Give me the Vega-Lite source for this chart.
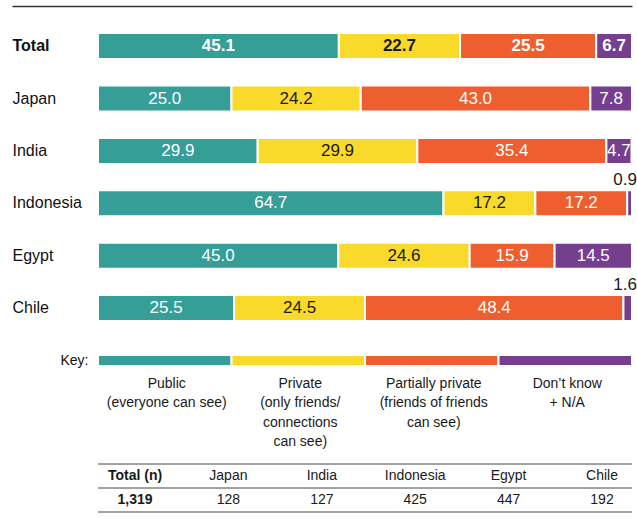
{
  "$schema": "https://vega.github.io/schema/vega-lite/v6.json",
  "width": 620,
  "height": 517,
  "autosize": "none",
  "padding": {"left": 12, "top": 6, "right": 5, "bottom": 0},
  "background": "white",
  "config": {"view": {"stroke": null}, "font": "Liberation Sans"},
  "resolve": {"scale": {"x": "independent", "y": "independent"}},
  "layer": [
    {
      "data": {
        "values": [
          {"row": "Total", "cat": "Public", "value": 45.1},
          {"row": "Total", "cat": "Private", "value": 22.7},
          {"row": "Total", "cat": "Partial", "value": 25.5},
          {"row": "Total", "cat": "DK", "value": 6.7},
          {"row": "Japan", "cat": "Public", "value": 25.0},
          {"row": "Japan", "cat": "Private", "value": 24.2},
          {"row": "Japan", "cat": "Partial", "value": 43.0},
          {"row": "Japan", "cat": "DK", "value": 7.8},
          {"row": "India", "cat": "Public", "value": 29.9},
          {"row": "India", "cat": "Private", "value": 29.9},
          {"row": "India", "cat": "Partial", "value": 35.4},
          {"row": "India", "cat": "DK", "value": 4.7},
          {"row": "Indonesia", "cat": "Public", "value": 64.7},
          {"row": "Indonesia", "cat": "Private", "value": 17.2},
          {"row": "Indonesia", "cat": "Partial", "value": 17.2},
          {"row": "Indonesia", "cat": "DK", "value": 0.9},
          {"row": "Egypt", "cat": "Public", "value": 45.0},
          {"row": "Egypt", "cat": "Private", "value": 24.6},
          {"row": "Egypt", "cat": "Partial", "value": 15.9},
          {"row": "Egypt", "cat": "DK", "value": 14.5},
          {"row": "Chile", "cat": "Public", "value": 25.5},
          {"row": "Chile", "cat": "Private", "value": 24.5},
          {"row": "Chile", "cat": "Partial", "value": 48.4},
          {"row": "Chile", "cat": "DK", "value": 1.6},
          {"row": "Key", "cat": "Public", "value": 25, "desc": ["Public", "(everyone can see)"]},
          {"row": "Key", "cat": "Private", "value": 25, "desc": ["Private", "(only friends/", "connections", "can see)"]},
          {"row": "Key", "cat": "Partial", "value": 25, "desc": ["Partially private", "(friends of friends", "can see)"]},
          {"row": "Key", "cat": "DK", "value": 25, "desc": ["Don’t know", "+ N/A"]}
        ]
      },
      "encoding": {
        "y": {
          "field": "row",
          "type": "nominal",
          "scale": {
            "domain": ["Total", "Japan", "India", "Indonesia", "Egypt", "Chile", "Key"],
            "range": [13.9, 380.7],
            "paddingInner": 0,
            "paddingOuter": 0
          },
          "axis": {
            "title": null,
            "domain": false,
            "ticks": false,
            "tickSize": 0,
            "grid": false,
            "labelAlign": {"condition": {"test": "datum.value === 'Key'", "value": "right"}, "value": "left"},
            "labelBaseline": "middle",
            "labelFont": "Liberation Sans",
            "labelFontSize": {"condition": {"test": "datum.value === 'Key'", "value": 14}, "value": 16},
            "labelFontWeight": {"condition": {"test": "datum.value === 'Total'", "value": "bold"}, "value": "normal"},
            "labelPadding": {"condition": {"test": "datum.value === 'Key'", "value": -76}, "value": 0},
            "labelColor": "#111111",
            "labelLimit": 200,
            "labelExpr": "datum.value === 'Key' ? 'Key:' : datum.value"
          }
        },
        "order": {"field": "cat", "sort": "descending"}
      },
      "layer": [
        {
          "transform": [{"filter": "datum.row !== 'Key'"}],
          "mark": {"type": "bar", "height": 26, "stroke": "white", "strokeWidth": 2},
          "encoding": {
            "x": {
              "field": "value",
              "type": "quantitative",
              "stack": "zero",
              "scale": {"domain": [-16.105, 100], "nice": false, "zero": false},
              "axis": {"orient": "top", "domain": true, "domainColor": "#333333", "domainWidth": 1.5, "ticks": false, "labels": false, "grid": false, "title": null}
            },
            "color": {
              "field": "cat",
              "type": "nominal",
              "scale": {"domain": ["Public", "Private", "Partial", "DK"], "range": ["#359E97", "#F9DA2B", "#EE5E2F", "#763E8F"]},
              "legend": null
            }
          }
        },
        {
          "transform": [{"filter": "datum.row === 'Key'"}],
          "mark": {"type": "bar", "height": 11, "stroke": "white", "strokeWidth": 2},
          "encoding": {
            "x": {"field": "value", "type": "quantitative", "stack": "zero"},
            "color": {"field": "cat", "type": "nominal", "legend": null}
          }
        },
        {
          "transform": [{"filter": "datum.row !== 'Key' && datum.row !== 'Total'"}],
          "mark": {"type": "text", "fontSize": 17, "baseline": "middle", "align": "center", "font": "Liberation Sans"},
          "encoding": {
            "x": {"field": "value", "type": "quantitative", "stack": "zero", "bandPosition": 0.5},
            "detail": {"field": "cat"},
            "text": {"condition": {"test": "datum.value < 2", "value": ""}, "field": "value", "type": "quantitative", "format": ".1f"},
            "color": {"condition": {"test": "datum.cat === 'Private'", "value": "#1a1a1a"}, "value": "white"}
          }
        },
        {
          "transform": [{"filter": "datum.row === 'Total'"}],
          "mark": {"type": "text", "fontSize": 17, "fontWeight": "bold", "baseline": "middle", "align": "center", "font": "Liberation Sans"},
          "encoding": {
            "x": {"field": "value", "type": "quantitative", "stack": "zero", "bandPosition": 0.5},
            "detail": {"field": "cat"},
            "text": {"field": "value", "type": "quantitative", "format": ".1f"},
            "color": {"condition": {"test": "datum.cat === 'Private'", "value": "#1a1a1a"}, "value": "white"}
          }
        },
        {
          "transform": [{"filter": "datum.row !== 'Key'"}],
          "mark": {"type": "text", "fontSize": 17, "baseline": "middle", "align": "right", "dx": 5, "dy": -23, "font": "Liberation Sans", "color": "#1a1a1a"},
          "encoding": {
            "x": {"field": "value", "type": "quantitative", "stack": "zero", "bandPosition": 1},
            "detail": {"field": "cat"},
            "text": {"condition": {"test": "datum.value >= 2", "value": ""}, "field": "value", "type": "quantitative", "format": ".1f"}
          }
        },
        {
          "transform": [{"filter": "datum.row === 'Key'"}],
          "mark": {"type": "text", "fontSize": 14, "baseline": "top", "align": "center", "dx": 2, "dy": 16, "lineHeight": 19.5, "font": "Liberation Sans", "color": "#1a1a1a"},
          "encoding": {
            "x": {"field": "value", "type": "quantitative", "stack": "zero", "bandPosition": 0.5},
            "detail": {"field": "cat"},
            "text": {"field": "desc"}
          }
        }
      ]
    },
    {
      "data": {
        "values": [
          {"col": "Total", "head": "Total (n)", "n": "1,319"},
          {"col": "Japan", "head": "Japan", "n": "128"},
          {"col": "India", "head": "India", "n": "127"},
          {"col": "Indonesia", "head": "Indonesia", "n": "425"},
          {"col": "Egypt", "head": "Egypt", "n": "447"},
          {"col": "Chile", "head": "Chile", "n": "192"}
        ]
      },
      "transform": [{"fold": ["head", "n"], "as": ["line", "label"]}],
      "encoding": {
        "x": {
          "field": "col",
          "type": "nominal",
          "scale": {"type": "point", "domain": ["Total", "Japan", "India", "Indonesia", "Egypt", "Chile"], "range": [123, 590], "padding": 0},
          "axis": null
        },
        "y": {
          "field": "line",
          "type": "nominal",
          "scale": {"domain": ["head", "n"], "range": [458, 506], "paddingInner": 0, "paddingOuter": 0},
          "axis": null
        },
        "text": {"field": "label"}
      },
      "layer": [
        {
          "transform": [{"filter": "datum.col !== 'Total'"}],
          "mark": {"type": "text", "fontSize": 14, "baseline": "middle", "align": "center", "font": "Liberation Sans", "color": "#1a1a1a"}
        },
        {
          "transform": [{"filter": "datum.col === 'Total'"}],
          "mark": {"type": "text", "fontSize": 14, "fontWeight": "bold", "baseline": "middle", "align": "center", "font": "Liberation Sans", "color": "#1a1a1a"}
        }
      ]
    },
    {
      "data": {"values": [{"line": "head"}, {"line": "n"}]},
      "layer": [
        {
          "mark": {"type": "rule", "color": "#444444", "strokeWidth": 1.2},
          "encoding": {
            "x": {"datum": 0, "type": "quantitative", "scale": {"domain": [-16.105, 100], "nice": false, "zero": false}, "axis": null},
            "x2": {"datum": 100},
            "y": {"field": "line", "type": "nominal", "bandPosition": 0, "scale": {"domain": ["head", "n"], "range": [458, 506], "paddingInner": 0, "paddingOuter": 0}, "axis": null}
          }
        },
        {
          "transform": [{"filter": "datum.line === 'n'"}],
          "mark": {"type": "rule", "color": "#444444", "strokeWidth": 1.2},
          "encoding": {
            "x": {"datum": 0, "type": "quantitative"},
            "x2": {"datum": 100},
            "y": {"field": "line", "type": "nominal", "bandPosition": 1}
          }
        }
      ]
    }
  ]
}
